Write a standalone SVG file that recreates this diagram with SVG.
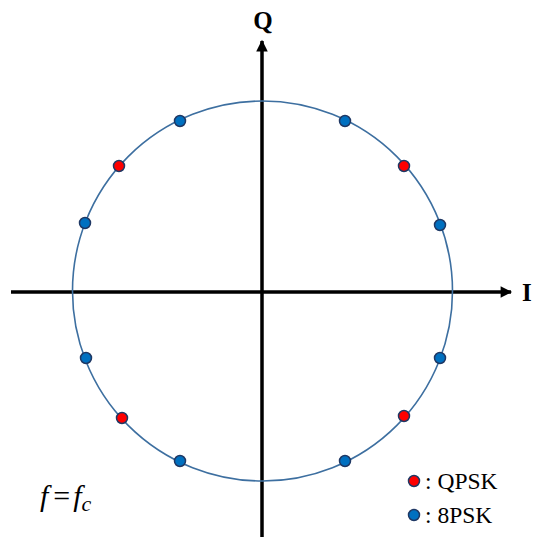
<svg xmlns="http://www.w3.org/2000/svg" width="535" height="539" viewBox="0 0 535 539">
<style>
.ax{stroke:#000;stroke-width:3.5;fill:none}
.ring{stroke:#3d6fa0;stroke-width:1.6;fill:none}
.q{fill:#ff0000;stroke:#1f3864;stroke-width:1.5}
.p8{fill:#0070c0;stroke:#1f3864;stroke-width:1.5}
text{font-family:'Liberation Serif','Times New Roman',serif;fill:#000}
.lbl{font-weight:bold;font-size:25px}
.leg{font-size:23.5px}
.eq{font-size:30px}
</style>
<defs>
<marker id="ah" viewBox="0 0 10 10" refX="9" refY="5" markerWidth="4.4" markerHeight="3.3" orient="auto" markerUnits="strokeWidth">
<path d="M0,0 L10,5 L0,10 Z" fill="#000"/>
</marker>
</defs>
<g id="connectors">
<line class="ax" x1="11" y1="292" x2="511" y2="292" marker-end="url(#ah)"/>
<line class="ax" x1="262" y1="537" x2="262" y2="41" marker-end="url(#ah)"/>
</g>
<g id="ring"><circle class="ring" cx="262.5" cy="291" r="190"/></g>
<g id="qpsk">
<circle class="q" cx="119" cy="166" r="5.5"/>
<circle class="q" cx="404" cy="166" r="5.5"/>
<circle class="q" cx="122" cy="418" r="5.5"/>
<circle class="q" cx="404" cy="416" r="5.5"/>
</g>
<g id="psk8">
<circle class="p8" cx="180" cy="121" r="5.5"/>
<circle class="p8" cx="345" cy="121" r="5.5"/>
<circle class="p8" cx="440" cy="225" r="5.5"/>
<circle class="p8" cx="85" cy="223" r="5.5"/>
<circle class="p8" cx="86" cy="358" r="5.5"/>
<circle class="p8" cx="440" cy="358" r="5.5"/>
<circle class="p8" cx="180" cy="461" r="5.5"/>
<circle class="p8" cx="345" cy="461" r="5.5"/>
</g>
<g id="label-Q"><text class="lbl" x="263" y="29" text-anchor="middle">Q</text></g>
<g id="label-I"><text class="lbl" x="522" y="301">I</text></g>
<g id="legend">
<circle class="q" cx="414" cy="481" r="5.5"/>
<text class="leg" x="425" y="489">: QPSK</text>
<circle class="p8" cx="414" cy="515" r="5.5"/>
<text class="leg" x="425" y="523">: 8PSK</text>
</g>
<g id="formula">
<text class="eq" x="40" y="506"><tspan font-style="italic">f</tspan><tspan dx="5">=</tspan><tspan dx="3" font-style="italic">f</tspan><tspan font-style="italic" font-size="22" dx="0" dy="5">c</tspan></text>
</g>
</svg>
